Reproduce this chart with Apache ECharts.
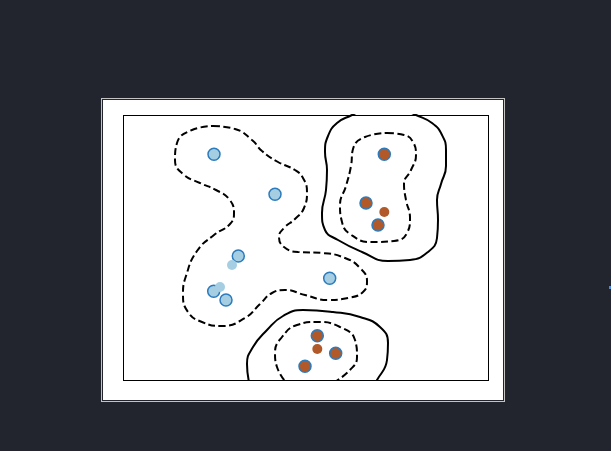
<!DOCTYPE html>
<html>
<head>
<meta charset="utf-8">
<script src="https://cdn.jsdelivr.net/npm/echarts@6/dist/echarts.min.js"></script>
<style>
  html, body { margin: 0; padding: 0; width: 611px; height: 451px; background: #22252e; overflow: hidden; }
  #outer { position: absolute; left: 101px; top: 98px; width: 404px; height: 304px; box-sizing: border-box; border: 1px solid #c4c4c4; }
  #paper { position: absolute; left: 103px; top: 100px; width: 400px; height: 300px; background: #ffffff; }
  #tick { position: absolute; left: 609px; top: 286px; width: 2px; height: 3px; background: #4f86e0; }
  #chart { position: absolute; left: 0; top: 0; width: 611px; height: 451px; }
  #frame { position: absolute; left: 123px; top: 115px; width: 366px; height: 266px; box-sizing: border-box; border: 1px solid #000; pointer-events: none; }
</style>
</head>
<body>
<div id="outer"></div>
<div id="paper"></div>
<div id="tick"></div>
<div id="chart"></div>
<div id="frame"></div>
<script>
// ---- data (plot units) ----
const xRange = [0, 365];
const yRange = [0, 265];

// class 0 (light blue): support vectors and other samples
const blueSupport = [[91, 225.7], [152, 185.7], [115.3, 124], [206.7, 101.7], [90.7, 88.7], [103, 80]];
const blueOther = [[109, 115], [97, 93]];
// class 1 (brown): support vectors and other samples
const brownSupport = [[261.3, 225.7], [243, 177], [255, 155], [194.3, 44.3], [212.7, 26.7], [182, 13.7]];
const brownOther = [[261.3, 168], [194.3, 31]];

// contour lines
const contourBlueMargin = [[90,254],[112,251],[129,240],[139,229],[155,218],[172,210],[180,202],[184,188],[181,172],[172,161],[161,152],[156,143],[161,133],[175,128],[199,127],[222,122],[237,112],[244,99],[240,88],[225,82],[205,80],[182,85],[162,90],[149,87],[137,76],[122,62],[99,54],[79,58],[65,68],[60,86],[63,104],[74,129],[91,145],[107,156],[111,167],[106,181],[93,190],[77,197],[60,206],[52,220],[54,237],[69,250],[90,254]];
const contourTopBoundary = [[249,275],[229,265],[214,257],[205,244],[202,228],[204,210],[203,190],[199,167],[202,150],[215,140],[239,128],[265,119],[287,120],[305,128],[314,142],[315,160],[314,180],[318,196],[323,214],[323,230],[319,245],[309,257],[293,265],[272,274]];
const contourTopMargin = [[264,247],[281,245],[290,238],[293,225],[288,210],[281,196],[283,180],[287,162],[284,147],[271,139],[248,138],[227,146],[219,158],[217,175],[223,194],[228,214],[230,231],[242,243],[264,247]];
const contourBottomBoundary = [[128,-10],[124,16],[130,33],[144,50],[160,64],[180,70],[210,68],[237,63],[257,53],[265,37],[264,20],[254,0],[247,-10]];
const contourBottomMargin = [[168,-8],[154,13],[152,27],[159,43],[174,55],[194,58],[217,53],[232,40],[234,23],[227,10],[210,-3]];

// ---- styles ----
const LIGHT_BLUE = '#a6cee3';
const BROWN = '#b15928';
const EDGE = '#2b7bbd';

function contour(data, dashed) {
  return {
    type: 'line', data: data, smooth: 0.5, symbol: 'none', showSymbol: false,
    clip: true, silent: true, z: 2,
    lineStyle: { color: '#000', width: 2, type: dashed ? [7, 3.5] : 'solid' }
  };
}
function scatter(data, color, edge, size, z) {
  return {
    type: 'scatter', data: data, symbol: 'circle', symbolSize: size, silent: true, z: z,
    itemStyle: { color: color, borderColor: edge || color, borderWidth: edge ? 1.5 : 0, opacity: 1 }
  };
}

const chart = echarts.init(document.getElementById('chart'), null, { renderer: 'canvas' });
chart.setOption({
  animation: false,
  backgroundColor: 'transparent',
  grid: { left: 123, top: 115, width: 365, height: 265, show: true, borderWidth: 0, backgroundColor: '#fff' },
  xAxis: { type: 'value', min: xRange[0], max: xRange[1], show: false },
  yAxis: { type: 'value', min: yRange[0], max: yRange[1], show: false },
  series: [
    contour(contourBlueMargin, true),
    contour(contourTopBoundary, false),
    contour(contourTopMargin, true),
    contour(contourBottomBoundary, false),
    contour(contourBottomMargin, true),
    scatter(blueSupport, LIGHT_BLUE, EDGE, 12, 5),
    scatter(brownSupport, BROWN, EDGE, 12, 5),
    scatter(blueOther, LIGHT_BLUE, null, 10, 6),
    scatter(brownOther, BROWN, null, 10, 6)
  ]
});
</script>
</body>
</html>
